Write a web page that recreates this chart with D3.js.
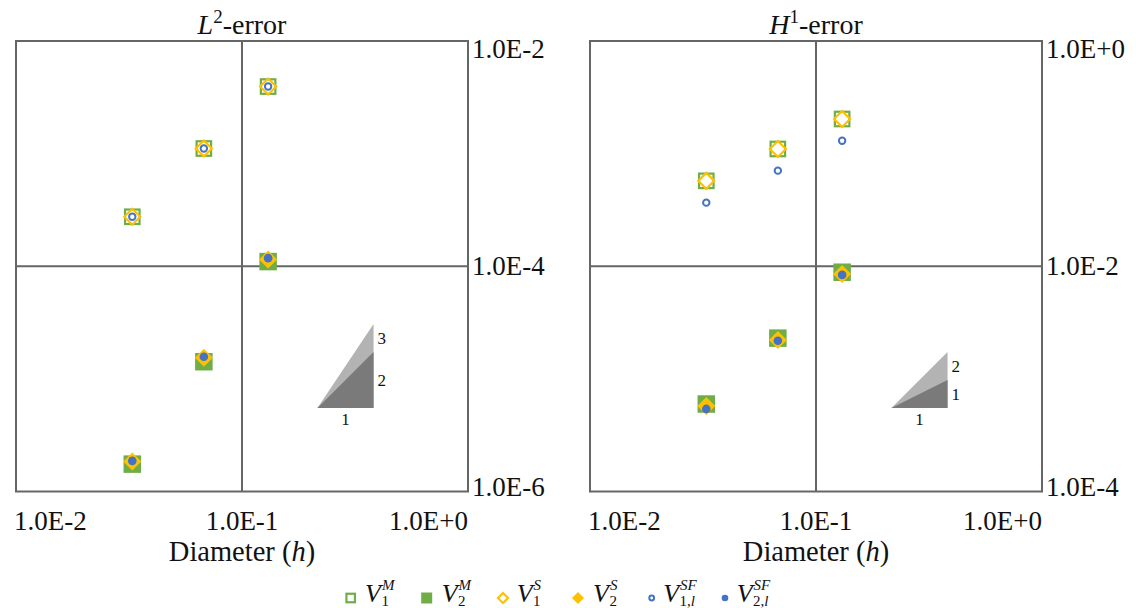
<!DOCTYPE html>
<html>
<head>
<meta charset="utf-8">
<script src="https://cdn.jsdelivr.net/npm/d3@7"></script>
<style>
  body { margin: 0; background: #fff; }
</style>
</head>
<body>
<svg id="chart" width="1136" height="608"></svg>
<script>
// mesh diameters (shared by both panels)
const diameter = [0.0327, 0.0678, 0.1305];

// L2-error
const l2V1M = [2.75e-4, 1.11e-3, 3.94e-3];
const l2V2M = [1.75e-6, 1.42e-5, 1.10e-4];
const l2V1S = [2.75e-4, 1.11e-3, 3.94e-3];
const l2V2S = [1.85e-6, 1.54e-5, 1.15e-4];
const l2V1SF = [2.75e-4, 1.11e-3, 3.94e-3];
const l2V2SF = [1.87e-6, 1.57e-5, 1.18e-4];

// H1-error
const h1V1M = [0.0573, 0.110, 0.203];
const h1V2M = [5.98e-4, 2.30e-3, 8.85e-3];
const h1V1S = [0.0573, 0.110, 0.203];
const h1V2S = [5.74e-4, 2.21e-3, 8.55e-3];
const h1V1SF = [0.0367, 0.0706, 0.130];
const h1V2SF = [5.41e-4, 2.18e-3, 8.38e-3];

// ticks
const xTicks = [0.01, 0.1, 1];
const l2Ticks = [1e-6, 1e-4, 1e-2];
const h1Ticks = [1e-4, 1e-2, 1];

// slope triangles
const slopeH = [0.2156, 0.382];
const l2SlopeBase = 5.52e-6;
const l2Slopes = [2, 3];
const h1SlopeBase = 5.52e-4;
const h1Slopes = [1, 2];

const legendSup = ["M", "M", "S", "S", "SF", "SF"];
const legendSub = ["1", "2", "1", "2", "1,l", "2,l"];

const green = "#70AD47", gold = "#FFC000", blue = "#4472C4";
const axisColor = "#666";
const serif = "Liberation Serif";

// marker styles, in legend order
const styles = [
    { shape: "square", open: true,  color: green, size: 14.5, lsize: 8.5 },
    { shape: "square", open: false, color: green, size: 17.5, lsize: 11 },
    { shape: "diamond", open: true,  color: gold, size: 8,  lsize: 5 },
    { shape: "diamond", open: false, color: gold, size: 9,  lsize: 6 },
    { shape: "circle", open: true,  color: blue, size: 3.2, lsize: 2.4 },
    { shape: "circle", open: false, color: blue, size: 4.3, lsize: 3.3 }
];

const svg = d3.select("#chart");

function fmt(v) {
    const e = Math.round(Math.log10(v));
    return "1.0E" + (e >= 0 ? "+" + e : e);
}

function addText(g) {
    return g.append("text").attr("font-family", serif);
}

function drawMarker(g, st, cx, cy, s) {
    const fill = st.open ? "none" : st.color;
    const stroke = st.open ? st.color : "none";
    if (st.shape === "square") {
        g.append("rect")
            .attr("x", cx - s / 2).attr("y", cy - s / 2)
            .attr("width", s).attr("height", s)
            .attr("fill", fill).attr("stroke", stroke).attr("stroke-width", 2.2);
    } else if (st.shape === "diamond") {
        g.append("path")
            .attr("d", `M${cx},${cy - s}L${cx + s},${cy}L${cx},${cy + s}L${cx - s},${cy}Z`)
            .attr("fill", fill).attr("stroke", stroke).attr("stroke-width", 2.2);
    } else {
        g.append("circle")
            .attr("cx", cx).attr("cy", cy).attr("r", s)
            .attr("fill", fill).attr("stroke", stroke).attr("stroke-width", 2);
    }
}

function drawPanel(opt) {
    const x = d3.scaleLog().domain([0.01, 1]).range([opt.x0, opt.x0 + 452]);
    const y = d3.scaleLog().domain([opt.yTicks[0], opt.yTicks[2]]).range([491.5, 41]);
    const g = svg.append("g").attr("fill", "#111");

    // frame and cross lines
    g.append("rect")
        .attr("x", x(0.01)).attr("y", y.range()[1])
        .attr("width", x(1) - x(0.01)).attr("height", y.range()[0] - y.range()[1])
        .attr("fill", "none").attr("stroke", axisColor).attr("stroke-width", 2);
    g.append("line")
        .attr("x1", x(xTicks[1])).attr("x2", x(xTicks[1]))
        .attr("y1", y.range()[1]).attr("y2", y.range()[0])
        .attr("stroke", axisColor).attr("stroke-width", 2);
    g.append("line")
        .attr("x1", x(0.01)).attr("x2", x(1))
        .attr("y1", y(opt.yTicks[1])).attr("y2", y(opt.yTicks[1]))
        .attr("stroke", axisColor).attr("stroke-width", 2);

    // x tick labels
    const anchors = ["start", "middle", "end"];
    xTicks.forEach((t, i) => {
        addText(g)
            .attr("x", x(t) + (i === 0 ? -2 : 0)).attr("y", 530)
            .attr("text-anchor", anchors[i])
            .attr("font-size", 27)
            .text(fmt(t));
    });
    // y tick labels on the right
    const yOff = [4.5, 8.5, 16.7];
    opt.yTicks.forEach((t, i) => {
        addText(g)
            .attr("x", x(1) + 4).attr("y", y(t) + yOff[i])
            .attr("font-size", 27)
            .text(fmt(t));
    });

    // title
    const title = addText(g)
        .attr("x", x(xTicks[1])).attr("y", 34)
        .attr("text-anchor", "middle").attr("font-size", 28);
    title.append("tspan").attr("font-style", "italic").text(opt.letter);
    title.append("tspan").attr("font-size", 19).attr("dy", -11).text(opt.power);
    title.append("tspan").attr("dy", 11).text("-error");

    // x axis title
    const xt = addText(g)
        .attr("x", x(xTicks[1])).attr("y", 561)
        .attr("text-anchor", "middle").attr("font-size", 28.5);
    xt.append("tspan").text("Diameter (");
    xt.append("tspan").attr("font-style", "italic").text("h");
    xt.append("tspan").text(")");

    // slope triangles: larger slope (light) behind smaller (dark)
    const [s1, s2] = opt.slopes;
    const ratio = slopeH[1] / slopeH[0];
    const xa = x(slopeH[0]), xb = x(slopeH[1]), yb = y(opt.slopeBase);
    const yTop2 = y(opt.slopeBase * Math.pow(ratio, s2));
    const yTop1 = y(opt.slopeBase * Math.pow(ratio, s1));
    g.append("path")
        .attr("d", `M${xa},${yb}L${xb},${yb}L${xb},${yTop2}Z`)
        .attr("fill", "#b3b3b3");
    g.append("path")
        .attr("d", `M${xa},${yb}L${xb},${yb}L${xb},${yTop1}Z`)
        .attr("fill", "#7a7a7a");
    addText(g).attr("x", xb + 4).attr("y", (yTop2 + yTop1) / 2 + 6)
        .attr("font-size", 17).text(s2);
    addText(g).attr("x", xb + 4).attr("y", (yTop1 + yb) / 2 + 6)
        .attr("font-size", 17).text(s1);
    addText(g).attr("x", (xa + xb) / 2).attr("y", yb + 17)
        .attr("text-anchor", "middle").attr("font-size", 17).text(1);

    // data markers, squares first then diamonds then circles
    opt.series.forEach((vals, k) => {
        vals.forEach((v, i) => {
            drawMarker(g, styles[k], x(diameter[i]), y(v), styles[k].size);
        });
    });
}

drawPanel({
    x0: 16, letter: "L", power: "2", yTicks: l2Ticks,
    slopeBase: l2SlopeBase, slopes: l2Slopes,
    series: [l2V1M, l2V2M, l2V1S, l2V2S, l2V1SF, l2V2SF]
});
drawPanel({
    x0: 590, letter: "H", power: "1", yTicks: h1Ticks,
    slopeBase: h1SlopeBase, slopes: h1Slopes,
    series: [h1V1M, h1V2M, h1V1S, h1V2S, h1V1SF, h1V2SF]
});

// legend: V with stacked superscript and subscript
const legendX = [350.7, 426.7, 503, 578, 651.7, 725];
const legendTextDx = [14.3, 15, 13.7, 15, 11.5, 11.7];
const lg = svg.append("g").attr("fill", "#111");
styles.forEach((st, k) => {
    const mx = legendX[k];
    drawMarker(lg, st, mx, 598, st.lsize);
    const tx = mx + legendTextDx[k];
    const v = addText(lg).attr("x", tx).attr("y", 601.7)
        .attr("font-size", 26).attr("font-style", "italic").text("V");
    const vw = v.node().getComputedTextLength();
    addText(lg).attr("x", tx + vw + 1).attr("y", 589.5)
        .attr("font-size", 15).attr("font-style", "italic").text(legendSup[k]);
    const parts = legendSub[k].split(",");
    const sub = addText(lg).attr("x", tx + vw + 0.5).attr("y", 606.3)
        .attr("font-size", 15);
    sub.append("tspan").text(parts[0]);
    if (parts.length > 1) {
        sub.append("tspan").text(",");
        sub.append("tspan").attr("font-style", "italic").text(parts[1]);
    }
});
</script>
</body>
</html>
